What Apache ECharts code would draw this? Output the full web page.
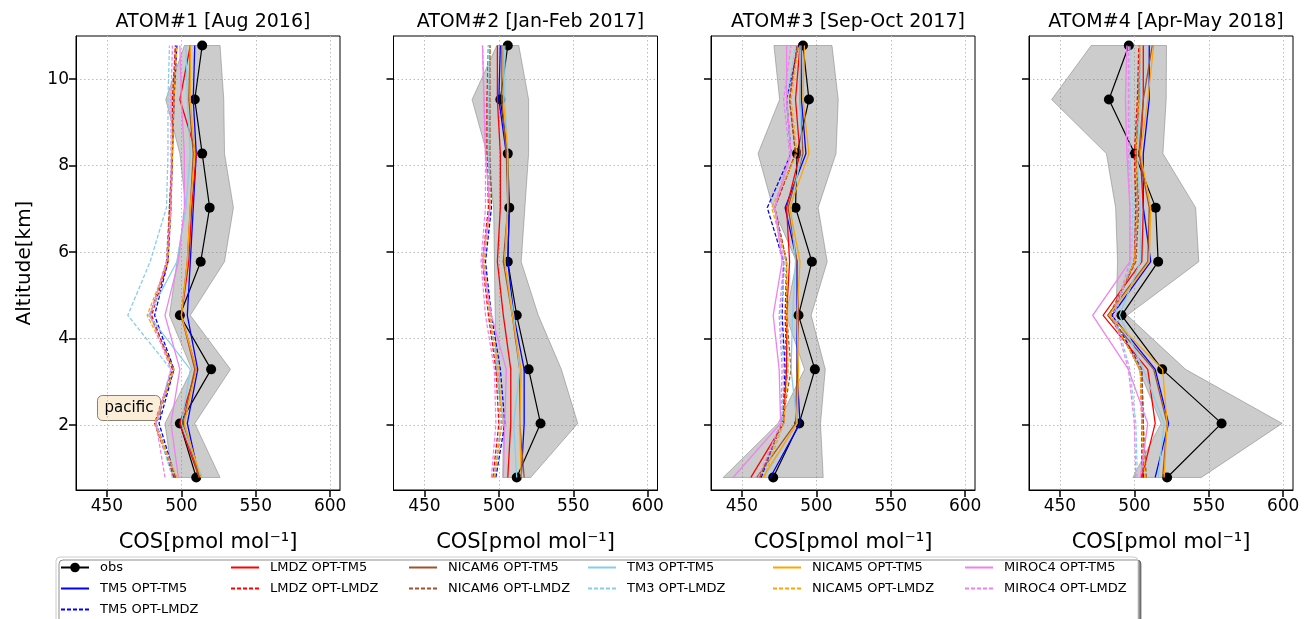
<!DOCTYPE html>
<html>
<head>
<meta charset="utf-8">
<script src="https://cdn.jsdelivr.net/npm/echarts@6/dist/echarts.min.js"></script>
<style>
  html, body { margin: 0; padding: 0; background: #fff; }
  #chart { width: 1304px; height: 619px; }
</style>
</head>
<body>
<div id="chart"></div>
<script>
  // altitude levels (km) of the profile points
  const alt = [0.79, 2.04, 3.29, 4.54, 5.78, 7.03, 8.28, 9.53, 10.78];
  const xTicks = [450, 500, 550, 600];
  const yTicks = [2, 4, 6, 8, 10];
  const titles = ['ATOM#1 [Aug 2016]', 'ATOM#2 [Jan-Feb 2017]', 'ATOM#3 [Sep-Oct 2017]', 'ATOM#4 [Apr-May 2018]'];

  // one row per campaign, values from bottom to top
  const obs = [
    [510, 499, 520, 499, 513, 519, 514, 509, 514],
    [512, 528, 520, 512, 506, 507, 506, 501, 506],
    [471, 488.5, 499, 488, 497, 486, 487, 495, 491],
    [522, 558.6, 518.7, 491.4, 516, 514.3, 500.2, 482.9, 496.3]
  ];
  const obsSd = [
    [16, 10, 13, 7, 16, 16, 15, 19.5, 12],
    [9.4, 25, 22, 14.5, 9, 10.5, 14, 19, 7.4],
    [33.6, 14.3, 7, 8.5, 10.3, 15.2, 26.2, 19.7, 19.5],
    [23, 40.7, 15.7, 3.8, 27.3, 26.9, 19, 38.5, 25.3]
  ];
  const tm5Tm5 = [
    [512, 504, 511, 504, 506, 508, 510, 508, 509],
    [515, 517, 517, 510, 506, 507, 505, 500, 501],
    [469, 489, 487, 487, 487, 479, 493, 490, 490],
    [514, 523, 514, 485, 511, 506, 506, 510, 510]
  ];
  const tm5Lmdz = [
    [496, 485, 495, 482, 491, 493, 494, 495, 497],
    [498, 504, 501, 495, 491, 495, 494, 494, 494],
    [463, 477, 479, 477, 478, 467, 483, 480, 488],
    [506, 506, 505, 485, 500, 502, 501, 503, 504]
  ];
  const lmdzTm5 = [
    [512, 499, 510, 500, 505, 507, 510, 499, 506],
    [506, 508, 508, 503, 499, 501, 501, 499, 499],
    [456, 478, 480, 480, 482, 480, 489, 486, 489],
    [505, 514, 509, 479, 505, 506, 504, 506, 506]
  ];
  const lmdzLmdz = [
    [495, 482, 494, 480, 491, 492, 494, 494, 496],
    [496, 500, 498, 493, 489, 493, 492, 492, 493],
    [462, 477, 480, 479, 480, 472, 486, 482, 487],
    [505, 505, 504, 484, 500, 501, 500, 502, 503]
  ];
  const nicam6Tm5 = [
    [512, 501, 509, 500, 504, 506, 508, 505, 506],
    [517, 514, 514, 509, 503, 506, 505, 502, 502],
    [460, 486, 487, 488, 487, 481, 491, 489, 490],
    [519, 522, 513, 482, 509, 510, 503, 506, 512]
  ];
  const nicam6Lmdz = [
    [496, 483, 495, 479, 490, 492, 494, 495, 496],
    [497, 502, 499, 494, 490, 494, 493, 493, 494],
    [462, 477, 483, 480, 480, 472, 486, 482, 487],
    [508, 506, 505, 483, 501, 503, 501, 503, 504]
  ];
  const tm3Tm5 = [
    [514, 500, 506, 478, 497, 503, 506, 504, 503],
    [512, 510, 514, 510, 504, 506, 506, 504, 504],
    [465, 487, 483, 484, 486, 483, 490, 489, 489],
    [516, 520, 506, 490, 504, 504, 502, 504, 504]
  ];
  const tm3Lmdz = [
    [494, 483, 493, 464, 479, 490, 491, 491, 492],
    [497, 501, 499, 494, 490, 494, 493, 493, 493],
    [464, 477, 478, 476, 479, 472, 483, 480, 486],
    [502, 501, 497, 487, 498, 499, 497, 497, 497]
  ];
  const nicam5Tm5 = [
    [513, 502, 510, 500, 504, 506, 509, 506, 506],
    [515, 514, 515, 509, 504, 506, 506, 503, 503],
    [464, 487, 488, 487, 489, 482, 495, 491, 492],
    [520, 522, 519, 483, 510, 511, 504, 509, 513]
  ];
  const nicam5Lmdz = [
    [497, 482, 495, 477, 491, 493, 494, 495, 497],
    [497, 502, 500, 494, 490, 494, 494, 494, 494],
    [465, 478, 481, 480, 480, 470, 487, 483, 488],
    [507, 505, 504, 484, 500, 502, 501, 503, 504]
  ];
  const miroc4Tm5 = [
    [498, 493, 499, 489, 498, 502, 502, 500, 499],
    [503, 504, 505, 495, 489, 494, 491, 490, 489],
    [444, 476, 475, 471, 477, 472, 483, 480, 480],
    [504, 509, 496, 472, 497, 497, 495, 494, 495]
  ];
  const miroc4Lmdz = [
    [489, 483, 493, 479, 490, 493, 493, 493, 494],
    [495, 498, 497, 491, 488, 491, 491, 490, 489],
    [461, 476, 477, 475, 478, 472, 482, 478, 483],
    [501, 500, 496, 486, 497, 497, 496, 496, 496]
  ];

  const models = [
    { name: 'TM5 OPT-TM5', data: tm5Tm5, color: '#0000ff', dash: false },
    { name: 'TM5 OPT-LMDZ', data: tm5Lmdz, color: '#0000ff', dash: true },
    { name: 'LMDZ OPT-TM5', data: lmdzTm5, color: '#ff0000', dash: false },
    { name: 'LMDZ OPT-LMDZ', data: lmdzLmdz, color: '#ff0000', dash: true },
    { name: 'NICAM6 OPT-TM5', data: nicam6Tm5, color: '#a0522d', dash: false },
    { name: 'NICAM6 OPT-LMDZ', data: nicam6Lmdz, color: '#a0522d', dash: true },
    { name: 'TM3 OPT-TM5', data: tm3Tm5, color: '#87ceeb', dash: false },
    { name: 'TM3 OPT-LMDZ', data: tm3Lmdz, color: '#87ceeb', dash: true },
    { name: 'NICAM5 OPT-TM5', data: nicam5Tm5, color: '#ffa500', dash: false },
    { name: 'NICAM5 OPT-LMDZ', data: nicam5Lmdz, color: '#ffa500', dash: true },
    { name: 'MIROC4 OPT-TM5', data: miroc4Tm5, color: '#ee82ee', dash: false },
    { name: 'MIROC4 OPT-LMDZ', data: miroc4Lmdz, color: '#ee82ee', dash: true }
  ];

  const FONT = 'DejaVu Sans';
  const lefts = [76, 393.5, 711, 1029];
  const W = 264;

  var chart = echarts.init(document.getElementById('chart'));

  var grids = [], xAxes = [], yAxes = [], titleList = [], series = [];
  lefts.forEach(function (l, i) {
    grids.push({ left: l, top: 36, width: W, height: 454, show: true, borderColor: '#000', borderWidth: 1, backgroundColor: 'transparent' });
    titleList.push({
      text: titles[i], left: l + W / 2, top: 8, textAlign: 'center',
      textStyle: { fontFamily: FONT, fontSize: 19, fontWeight: 'normal', color: '#000' }
    });
    xAxes.push({
      type: 'value', gridIndex: i, min: 429.2, max: 606.6,
      name: 'COS[pmol mol⁻¹]', nameLocation: 'middle', nameGap: 42,
      nameTextStyle: { fontFamily: FONT, fontSize: 21, color: '#000' },
      axisLine: { show: true, onZero: false, lineStyle: { color: '#000', width: 1 } },
      axisTick: { show: true, length: 7, customValues: xTicks, lineStyle: { color: '#000', width: 1.5 } },
      axisLabel: { customValues: xTicks, fontFamily: FONT, fontSize: 17, color: '#000', margin: 8 },
      splitLine: { show: true, lineStyle: { color: '#bdbdbd', type: [1.5, 2.5], width: 1 } }
    });
    yAxes.push({
      type: 'value', gridIndex: i, min: 0.5, max: 11.0,
      name: i === 0 ? 'Altitude[km]' : '', nameLocation: 'middle', nameGap: 41,
      nameTextStyle: { fontFamily: FONT, fontSize: 20, color: '#000' },
      axisLine: { show: true, onZero: false, lineStyle: { color: '#000', width: 1 } },
      axisTick: { show: true, length: 7, customValues: yTicks, lineStyle: { color: '#000', width: 1.5 } },
      axisLabel: { show: i === 0, customValues: yTicks, fontFamily: FONT, fontSize: 17, color: '#000', margin: 7 },
      splitLine: { show: true, lineStyle: { color: '#bdbdbd', type: [1.5, 2.5], width: 1 } }
    });

    // obs +/- sd shaded band
    var lo = obs[i].map(function (v, k) { return [v - obsSd[i][k], alt[k]]; });
    var hi = obs[i].map(function (v, k) { return [v + obsSd[i][k], alt[k]]; });
    var band = lo.concat(hi.slice().reverse());
    series.push({
      type: 'custom', xAxisIndex: i, yAxisIndex: i, silent: true, z: 1,
      data: band,
      renderItem: (function (pts) {
        return function (params, api) {
          if (params.dataIndex !== 0) return;
          return {
            type: 'polygon',
            shape: { points: pts.map(function (p) { return api.coord(p); }) },
            style: { fill: 'rgba(128,128,128,0.4)', stroke: 'rgba(110,110,110,0.45)', lineWidth: 1 }
          };
        };
      })(band)
    });

    series.push({
      name: 'obs', type: 'line', xAxisIndex: i, yAxisIndex: i, z: 3,
      data: obs[i].map(function (v, k) { return [v, alt[k]]; }),
      color: '#000', symbol: 'circle', symbolSize: 10, showSymbol: true,
      lineStyle: { color: '#000', width: 1.2 }, itemStyle: { color: '#000' }
    });

    models.forEach(function (m) {
      series.push({
        name: m.name, type: 'line', xAxisIndex: i, yAxisIndex: i, z: 4,
        data: m.data[i].map(function (v, k) { return [v, alt[k]]; }),
        color: m.color, symbol: 'none', showSymbol: false,
        lineStyle: { color: m.color, width: 1.3, type: m.dash ? [4, 2] : 'solid' }
      });
    });
  });

  var legendCols = [
    { left: 60, data: ['obs', 'TM5 OPT-TM5', 'TM5 OPT-LMDZ'] },
    { left: 230, data: ['LMDZ OPT-TM5', 'LMDZ OPT-LMDZ'] },
    { left: 408, data: ['NICAM6 OPT-TM5', 'NICAM6 OPT-LMDZ'] },
    { left: 587, data: ['TM3 OPT-TM5', 'TM3 OPT-LMDZ'] },
    { left: 772, data: ['NICAM5 OPT-TM5', 'NICAM5 OPT-LMDZ'] },
    { left: 964, data: ['MIROC4 OPT-TM5', 'MIROC4 OPT-LMDZ'] }
  ];
  var legends = legendCols.map(function (c) {
    return {
      left: c.left, top: 561, orient: 'vertical', padding: 0,
      itemWidth: 28, itemHeight: 12, itemGap: 8,
      selectedMode: false,
      data: c.data.map(function (n) {
        return n === 'obs' ? { name: n } : { name: n, itemStyle: { opacity: 0 } };
      }),
      textStyle: { fontFamily: FONT, fontSize: 13, color: '#000', padding: [0, 0, 0, 6] }
    };
  });

  var option = {
    animation: false,
    backgroundColor: '#fff',
    title: titleList,
    grid: grids,
    xAxis: xAxes,
    yAxis: yAxes,
    legend: legends,
    graphic: [
      {
        type: 'rect', left: 55.5, top: 556.5, z: -1,
        shape: { width: 1082, height: 90, r: 4 },
        style: { fill: '#fff', stroke: '#cccccc', lineWidth: 1, shadowColor: 'rgba(0,0,0,0.45)', shadowOffsetX: 3, shadowOffsetY: 3, shadowBlur: 0 }
      },
      {
        type: 'group', left: 97, top: 395, z: 100,
        children: [
          { type: 'rect', shape: { x: 0, y: 0, width: 63, height: 25, r: 5 }, style: { fill: '#faeed9', stroke: '#8a8070', lineWidth: 1 } },
          { type: 'text', x: 31.5, y: 12.5, style: { text: 'pacific', fontFamily: FONT, fontSize: 15, fill: '#000', align: 'center', verticalAlign: 'middle' } }
        ]
      }
    ],
    series: series
  };
  chart.setOption(option);
</script>
</body>
</html>
